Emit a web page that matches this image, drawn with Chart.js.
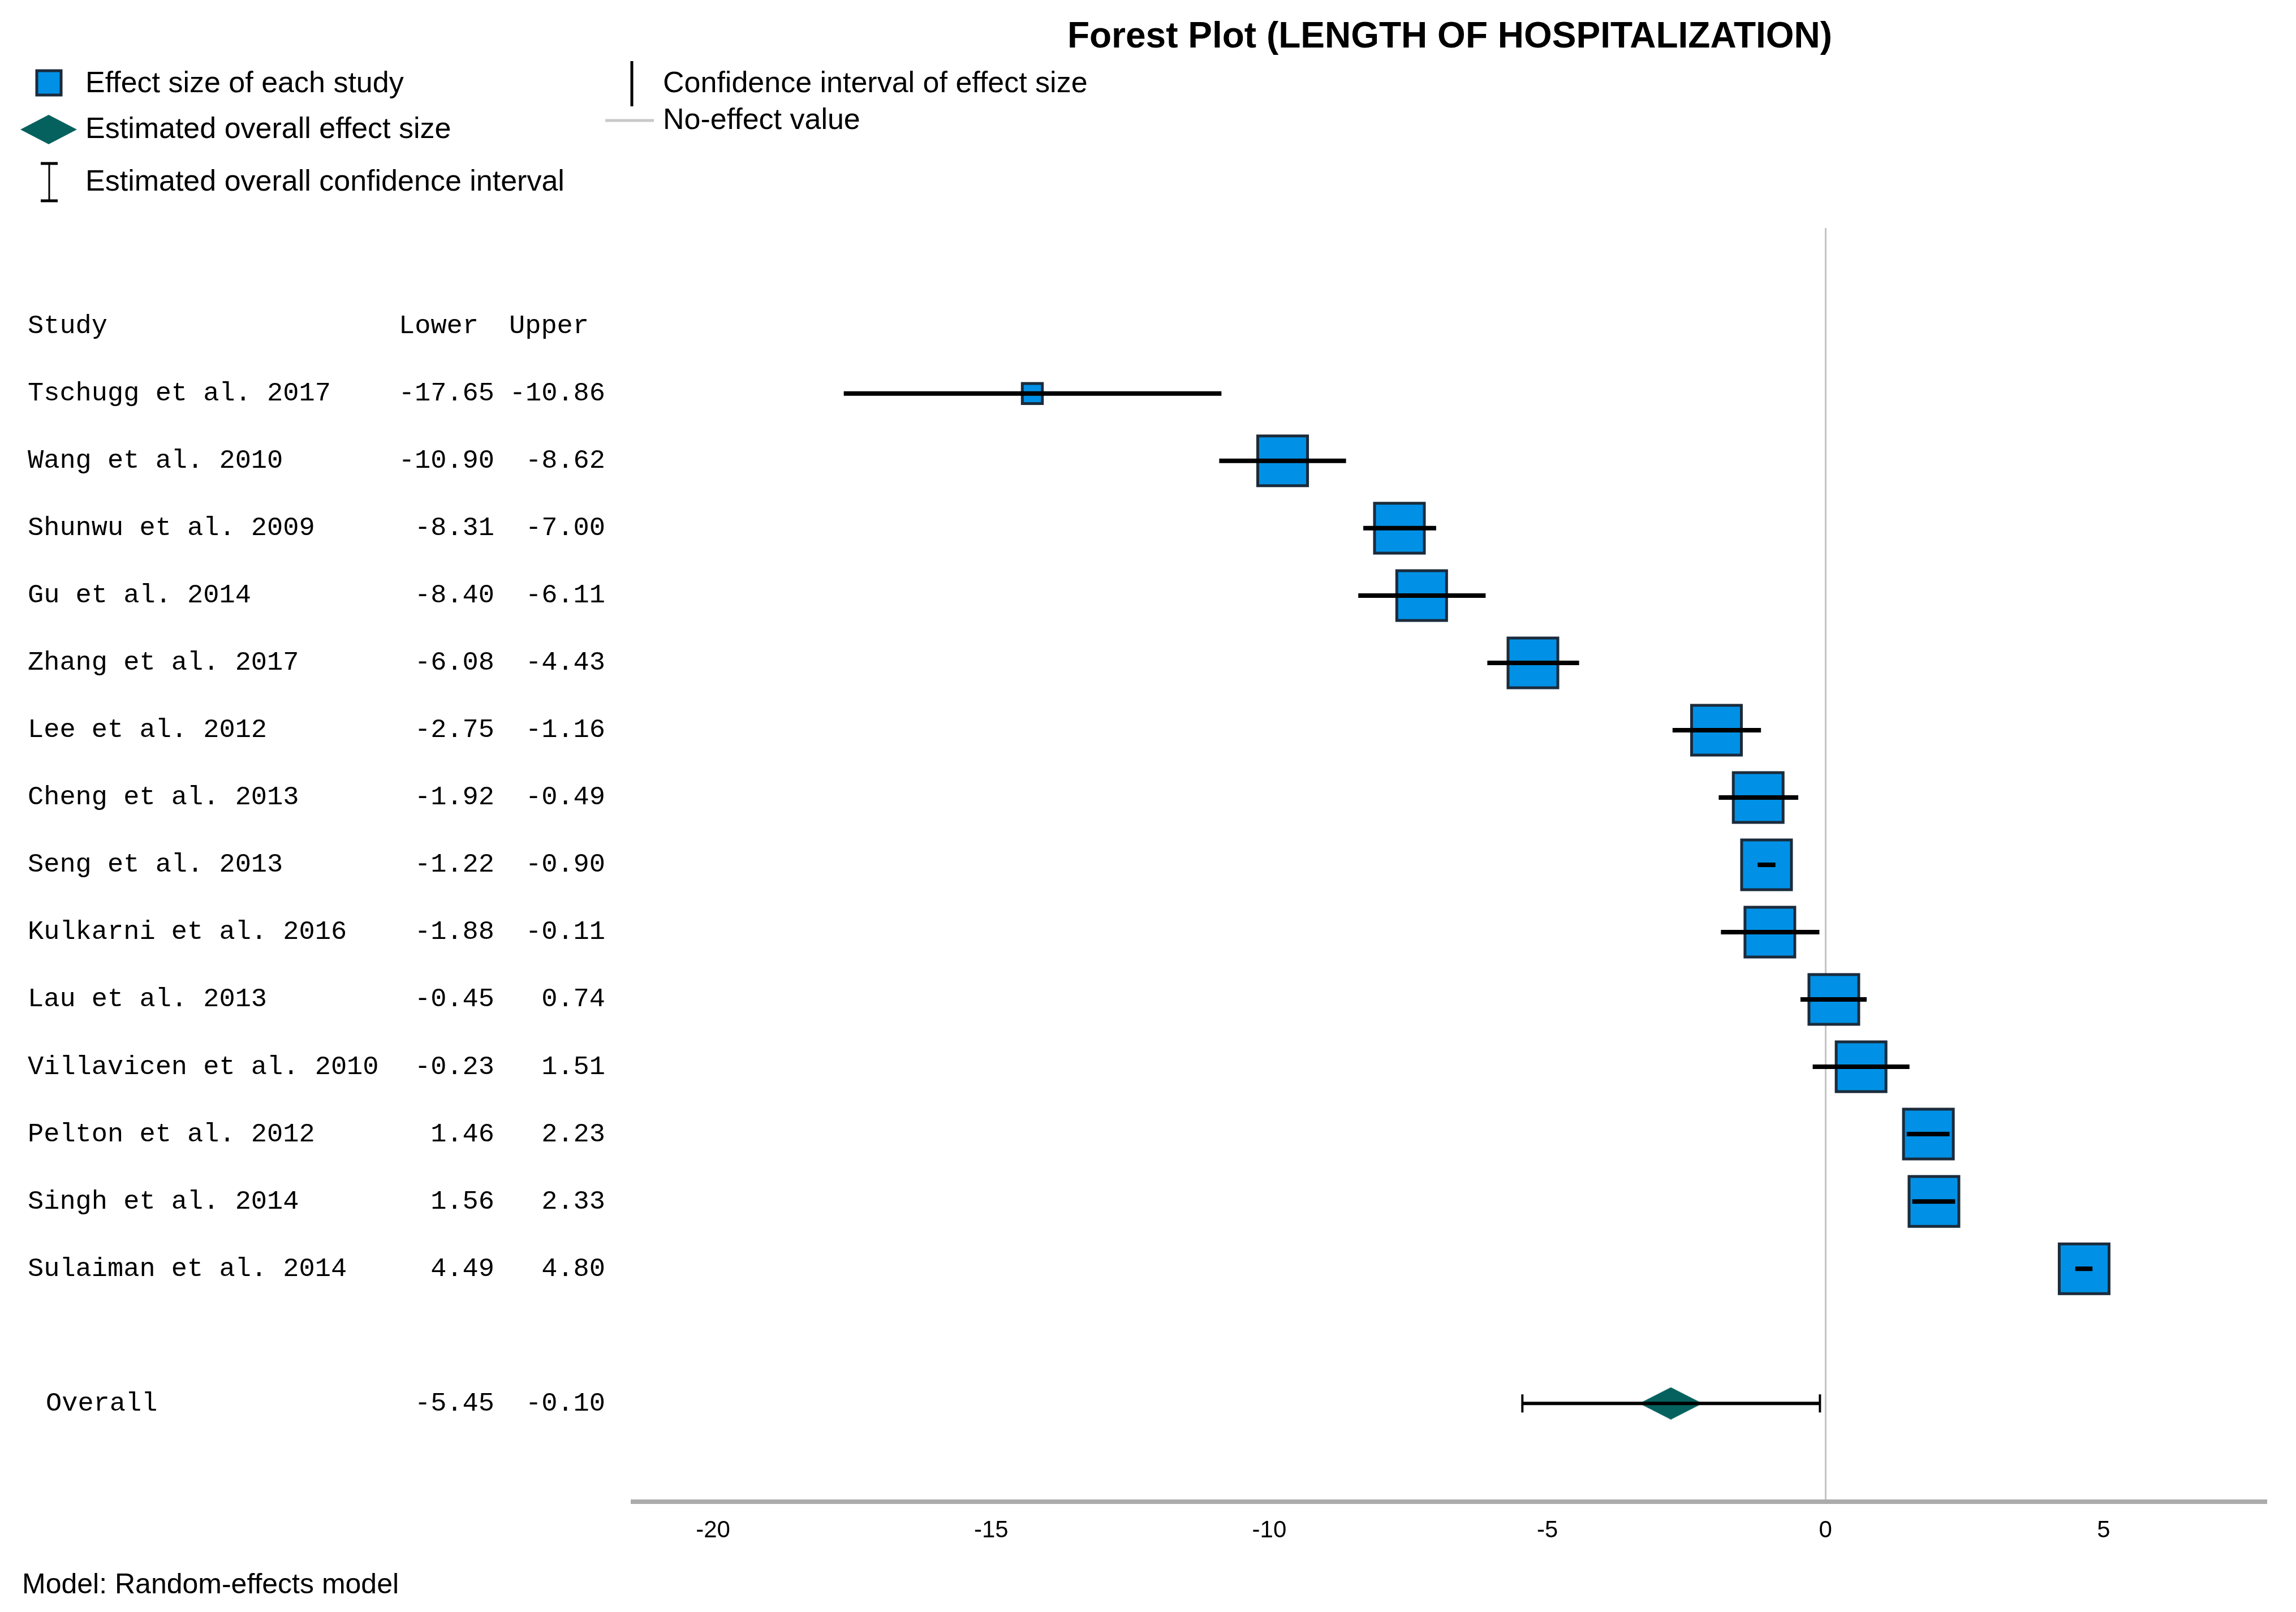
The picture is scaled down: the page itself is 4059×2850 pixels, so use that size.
<!DOCTYPE html>
<html>
<head>
<meta charset="utf-8">
<script src="https://cdn.jsdelivr.net/npm/chart.js@4.4.1/dist/chart.umd.min.js"></script>
<style>
  html, body { margin: 0; padding: 0; background: #fff; overflow: hidden; }
  #wrap { width: 4059px; height: 2850px; position: relative; }
  #forest { display: block; }
</style>
</head>
<body>
<div id="wrap"><canvas id="forest"></canvas></div>
<script>
// study rows, top to bottom
const studies = [
  "Tschugg et al. 2017", "Wang et al. 2010", "Shunwu et al. 2009", "Gu et al. 2014",
  "Zhang et al. 2017", "Lee et al. 2012", "Cheng et al. 2013", "Seng et al. 2013",
  "Kulkarni et al. 2016", "Lau et al. 2013", "Villavicen et al. 2010", "Pelton et al. 2012",
  "Singh et al. 2014", "Sulaiman et al. 2014"
];
const lower = [-17.65, -10.90, -8.31, -8.40, -6.08, -2.75, -1.92, -1.22, -1.88, -0.45, -0.23, 1.46, 1.56, 4.49];
const upper = [-10.86, -8.62, -7.00, -6.11, -4.43, -1.16, -0.49, -0.90, -0.11, 0.74, 1.51, 2.23, 2.33, 4.80];
const effect = [-14.26, -9.76, -7.66, -7.26, -5.26, -1.96, -1.21, -1.06, -1.00, 0.15, 0.64, 1.85, 1.95, 4.65];
const weights = [3.0, 7.46, 7.46, 7.46, 7.46, 7.46, 7.46, 7.46, 7.46, 7.46, 7.46, 7.46, 7.46, 7.46];

const overallName = "Overall";
const overallLower = -5.45;
const overallUpper = -0.10;
const overallEffect = -2.78;

const xTicks = [-20, -15, -10, -5, 0, 5];

const BLUE = '#0091e6';
const BLUE_EDGE = '#1b2b3b';
const TEAL = '#05615e';
const SANS = '"Liberation Sans", Arial, sans-serif';
const MONO = '"Liberation Mono", "DejaVu Sans Mono", monospace';

// diamond marker for the pooled estimate
function diamond(w, h) {
  const c = document.createElement('canvas');
  c.width = w; c.height = h;
  const g = c.getContext('2d');
  g.fillStyle = TEAL;
  g.beginPath();
  g.moveTo(w / 2, 0); g.lineTo(w, h / 2); g.lineTo(w / 2, h); g.lineTo(0, h / 2);
  g.closePath(); g.fill();
  return c;
}
const bigDiamond = diamond(112, 57);

const overallRow = studies.length + 2;

const textPlugin = {
  id: 'forestText',
  afterDatasetsDraw(chart) {
    // end caps of the overall interval
    const { ctx, scales: { x, y } } = chart;
    const yy = y.getPixelForValue(overallRow);
    ctx.save();
    ctx.strokeStyle = '#000';
    ctx.lineWidth = 4;
    [overallLower, overallUpper].forEach(v => {
      const xx = x.getPixelForValue(v);
      ctx.beginPath(); ctx.moveTo(xx, yy - 16); ctx.lineTo(xx, yy + 16); ctx.stroke();
    });
    ctx.restore();
  },
  afterDraw(chart) {
    const { ctx, scales: { y } } = chart;
    ctx.save();
    ctx.fillStyle = '#000';
    ctx.textBaseline = 'middle';

    // title
    ctx.font = 'bold 64px ' + SANS;
    ctx.textAlign = 'center';
    ctx.fillText('Forest Plot (LENGTH OF HOSPITALIZATION)', 2563, 66);

    // legend
    ctx.textAlign = 'left';
    ctx.fillStyle = BLUE;
    ctx.fillRect(65, 125, 43, 43);
    ctx.strokeStyle = BLUE_EDGE; ctx.lineWidth = 5;
    ctx.strokeRect(65, 125, 43, 43);
    ctx.drawImage(diamond(100, 52), 36, 203);
    ctx.strokeStyle = '#000';
    ctx.lineWidth = 3;
    ctx.beginPath(); ctx.moveTo(87, 288); ctx.lineTo(87, 356); ctx.stroke();
    ctx.lineWidth = 5;
    ctx.beginPath(); ctx.moveTo(72, 289); ctx.lineTo(102, 289); ctx.moveTo(72, 355); ctx.lineTo(102, 355); ctx.stroke();
    ctx.beginPath(); ctx.moveTo(1117, 108); ctx.lineTo(1117, 188); ctx.stroke();
    ctx.strokeStyle = '#c8c8c8';
    ctx.beginPath(); ctx.moveTo(1070, 213); ctx.lineTo(1156, 213); ctx.stroke();

    ctx.fillStyle = '#000';
    ctx.font = '52px ' + SANS;
    ctx.fillText('Effect size of each study', 151, 149);
    ctx.fillText('Estimated overall effect size', 151, 230);
    ctx.fillText('Estimated overall confidence interval', 151, 323);
    ctx.fillText('Confidence interval of effect size', 1172, 149);
    ctx.fillText('No-effect value', 1172, 214);

    // study table
    ctx.font = '47px ' + MONO;
    const y0 = y.getPixelForValue(0);
    ctx.fillText('Study', 49, y0);
    ctx.fillText('Lower', 705, y0);
    ctx.fillText('Upper', 900, y0);
    studies.forEach((s, i) => {
      const yy = y.getPixelForValue(i + 1);
      ctx.textAlign = 'left';
      ctx.fillText(s, 49, yy);
      ctx.textAlign = 'right';
      ctx.fillText(lower[i].toFixed(2), 874, yy);
      ctx.fillText(upper[i].toFixed(2), 1070, yy);
    });
    const yo = y.getPixelForValue(overallRow);
    ctx.textAlign = 'left';
    ctx.fillText(overallName, 81, yo);
    ctx.textAlign = 'right';
    ctx.fillText(overallLower.toFixed(2), 874, yo);
    ctx.fillText(overallUpper.toFixed(2), 1070, yo);

    // footnote
    ctx.textAlign = 'left';
    ctx.font = '50px ' + SANS;
    ctx.fillText('Model: Random-effects model', 39, 2803);
    ctx.restore();
  }
};

new Chart(document.getElementById('forest'), {
  type: 'bar',
  data: {
    datasets: [
      {
        label: 'Confidence interval of effect size',
        data: studies.map((s, i) => ({ x: [lower[i], upper[i]], y: i + 1 })),
        backgroundColor: '#000',
        borderWidth: 0,
        grouped: false,
        maxBarThickness: 8,
        order: 0
      },
      {
        label: 'Estimated overall confidence interval',
        data: [{ x: [overallLower, overallUpper], y: overallRow }],
        backgroundColor: '#000',
        borderWidth: 0,
        grouped: false,
        maxBarThickness: 6,
        order: 0
      },
      {
        type: 'scatter',
        label: 'Effect size of each study',
        data: studies.map((s, i) => ({ x: effect[i], y: i + 1 })),
        pointStyle: 'rect',
        pointRadius: c => (weights[c.dataIndex] * 11.8) / Math.SQRT2,
        backgroundColor: BLUE,
        borderColor: BLUE_EDGE,
        borderWidth: 5,
        order: 2
      },
      {
        type: 'scatter',
        label: 'Estimated overall effect size',
        data: [{ x: overallEffect, y: overallRow }],
        pointStyle: bigDiamond,
        order: 2
      }
    ]
  },
  options: {
    indexAxis: 'y',
    responsive: true,
    maintainAspectRatio: false,
    devicePixelRatio: 1,
    animation: false,
    layout: { autoPadding: false, padding: { left: 1119, right: 53, top: 403, bottom: 0 } },
    plugins: { legend: { display: false }, tooltip: { enabled: false }, title: { display: false } },
    scales: {
      x: {
        type: 'linear',
        min: -21.44,
        max: 7.92,
        z: 1,
        afterFit: s => { s.height = 195; },
        afterBuildTicks: s => { s.ticks = xTicks.map(v => ({ value: v })); },
        grid: {
          drawTicks: false,
          lineWidth: 3,
          color: c => (c.tick && c.tick.value === 0 ? '#c4c4c4' : 'rgba(0,0,0,0)')
        },
        border: { display: true, color: '#ababab', width: 8 },
        ticks: { color: '#000', padding: 26, font: { family: SANS, size: 42 } }
      },
      y: {
        type: 'linear',
        min: -1.46,
        max: 17.46,
        reverse: true,
        offset: false,
        display: false
      }
    }
  },
  plugins: [textPlugin]
});
</script>
</body>
</html>
